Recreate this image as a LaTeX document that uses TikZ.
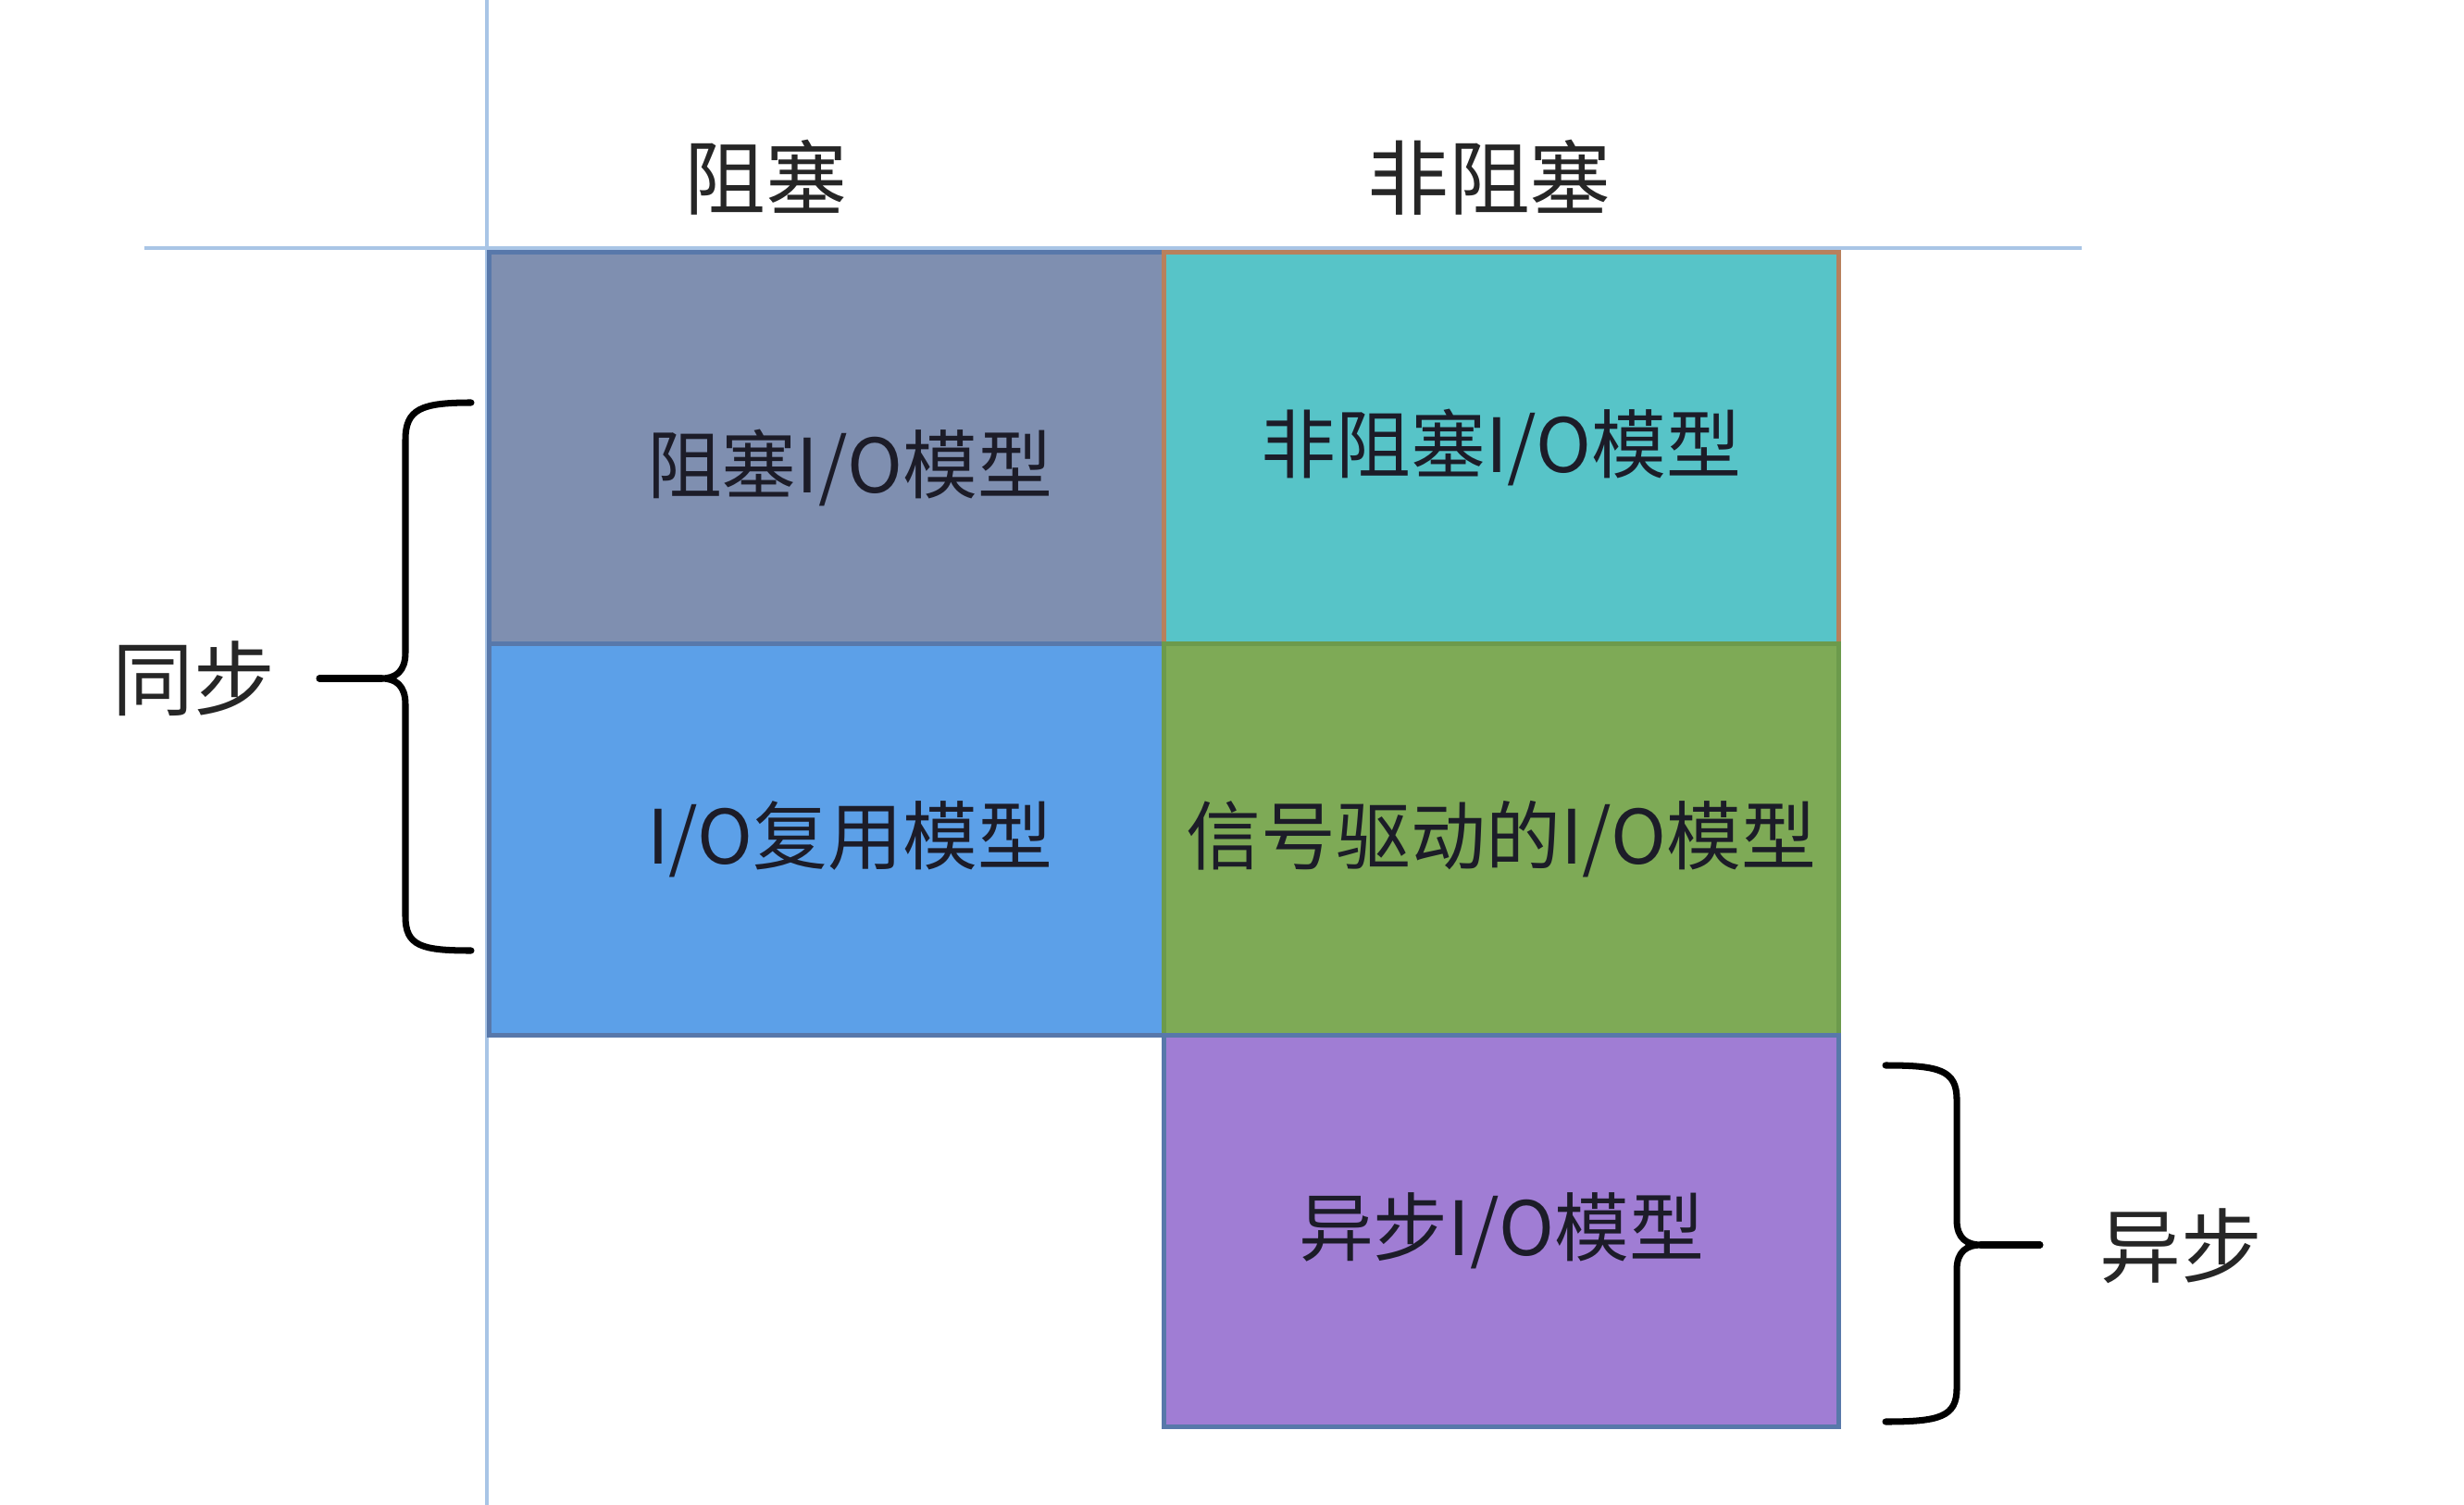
\documentclass[tikz,border=0pt]{standalone}
\usepackage{fontspec}
\setmainfont{Noto Sans CJK SC}
\usepackage{tikz}
\usetikzlibrary{positioning}
\usepackage{xcolor}

\definecolor{guide}{HTML}{A9C5E6}
\definecolor{blockfill}{HTML}{7F8FB0}
\definecolor{nonblockfill}{HTML}{57C4C8}
\definecolor{muxfill}{HTML}{5CA0E8}
\definecolor{sigfill}{HTML}{7EAA56}
\definecolor{asyncfill}{HTML}{A07DD4}
\definecolor{edgeblue}{HTML}{5878AA}
\definecolor{edgebrown}{HTML}{B8805C}
\definecolor{edgegreen}{HTML}{6C9A4C}
\definecolor{ink}{HTML}{1C1C28}

\begin{document}
\begin{tikzpicture}[
    cell/.style={rectangle, draw, line width=1.2pt, outer sep=0pt,
        minimum width=7.29cm, minimum height=4.23cm},
    celltext/.style={text=ink, font=\fontsize{23}{28}\selectfont},
    head/.style={font=\fontsize{25}{30}\selectfont, text=black!85},
    brace/.style={line width=2pt, line cap=round}
]
    \useasboundingbox (0,0) rectangle (26.62,-16.26);

    % guide lines
    \draw [guide, line width=1pt] (5.26,0) -- (5.26,-16.26);
    \draw [guide, line width=1pt] (1.56,-2.68) -- (22.49,-2.68);

    % column heads
    \node (hblock) [head] at (8.27,-1.92) {阻塞};
    \node (hnonblock) [head] at (16.09,-1.92) {非阻塞};

    % model cells
    \node (b1) [cell, fill=blockfill, draw=edgeblue] at (8.93,-4.84) {};
    \node (b2) [cell, fill=nonblockfill, draw=edgebrown, right=0pt of b1] {};
    \node (b3) [cell, fill=muxfill, draw=edgeblue, below=0pt of b1] {};
    \node (b4) [cell, fill=sigfill, draw=edgegreen, below=0pt of b2] {};
    \node (b5) [cell, fill=asyncfill, draw=edgeblue, below=0pt of b4] {};

    \node (t1) [celltext, xshift=0.25cm, yshift=-0.22cm] at (b1) {阻塞I/O模型};
    \node (t2) [celltext] at (b2) {非阻塞I/O模型};
    \node (t3) [celltext, xshift=0.25cm] at (b3) {I/O复用模型};
    \node (t4) [celltext] at (b4) {信号驱动的I/O模型};
    \node (t5) [celltext] at (b5) {异步I/O模型};

    % left brace: sync
    \coordinate (sTip) at (4.12,-7.33);
    \draw [brace] (5.09,-4.35) .. controls (4.55,-4.35) and (4.38,-4.42) .. (4.38,-4.75)
        -- (4.38,-7.05) .. controls (4.38,-7.25) and (4.28,-7.33) .. (sTip)
        .. controls (4.28,-7.33) and (4.38,-7.41) .. (4.38,-7.61)
        -- (4.38,-9.90) .. controls (4.38,-10.22) and (4.55,-10.27) .. (5.09,-10.27);
    \node (sync) [head] at (2.09,-7.33) {同步};
    \draw [brace] (sTip) -- (3.45,-7.33);

    % right brace: async
    \coordinate (aTip) at (21.40,-13.45);
    \draw [brace] (20.37,-11.51) .. controls (20.95,-11.51) and (21.14,-11.56) .. (21.14,-11.88)
        -- (21.14,-13.18) .. controls (21.14,-13.38) and (21.25,-13.45) .. (aTip)
        .. controls (21.25,-13.45) and (21.14,-13.52) .. (21.14,-13.72)
        -- (21.14,-15.00) .. controls (21.14,-15.31) and (20.95,-15.36) .. (20.37,-15.36);
    \node (async) [head] at (23.56,-13.46) {异步};
    \draw [brace] (aTip) -- (22.04,-13.45);
\end{tikzpicture}
\end{document}
